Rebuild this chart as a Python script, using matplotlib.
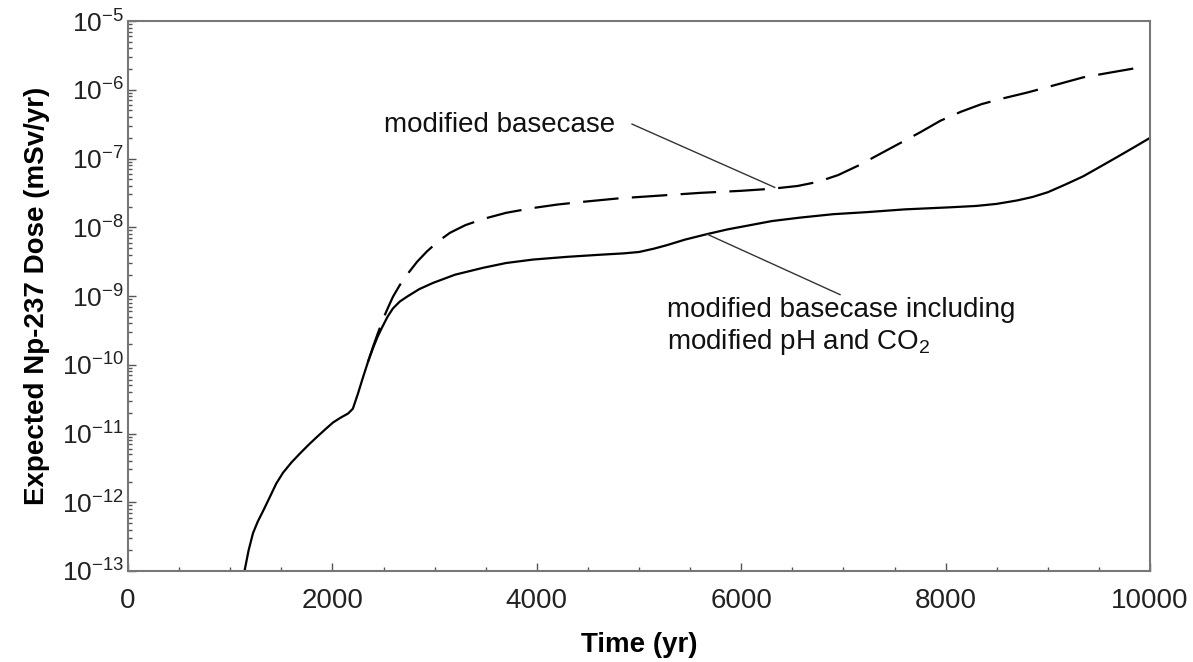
import matplotlib
matplotlib.use("Agg")
import matplotlib.pyplot as plt
import numpy as np
from matplotlib.ticker import LogLocator, MultipleLocator, FixedLocator, NullFormatter

plt.rcParams['font.family'] = ['Liberation Sans', 'DejaVu Sans']
plt.rcParams['mathtext.fontset'] = 'custom'
plt.rcParams['mathtext.rm'] = 'Liberation Sans'
plt.rcParams['mathtext.it'] = 'Liberation Sans'
plt.rcParams['mathtext.bf'] = 'Liberation Sans:bold'

# Solid: modified basecase including modified pH and CO2 (log10 of dose, mSv/yr)
t_solid = [1140, 1180, 1223, 1270, 1321, 1389, 1450, 1517, 1600, 1683, 1770, 1849,
           1930, 2006, 2080, 2153, 2200, 2250, 2300, 2350, 2397, 2440, 2485, 2540,
           2593, 2660, 2730, 2850, 2984, 3200, 3474, 3700, 3963, 4300, 4618, 4850,
           5000, 5150, 5274, 5450, 5665, 5870, 6086, 6300, 6575, 6900, 7231, 7600,
           8043, 8300, 8500, 8700, 8850, 9001, 9170, 9345, 9500, 9677, 9840, 10000]
logd_solid = [-13.0, -12.70, -12.45, -12.28, -12.13, -11.92, -11.73, -11.57, -11.42,
              -11.29, -11.16, -11.05, -10.94, -10.84, -10.77, -10.71, -10.64, -10.42,
              -10.18, -9.95, -9.76, -9.60, -9.46, -9.30, -9.18, -9.08, -9.01, -8.90,
              -8.81, -8.69, -8.59, -8.52, -8.47, -8.43, -8.40, -8.38, -8.36, -8.31,
              -8.26, -8.18, -8.10, -8.03, -7.97, -7.91, -7.86, -7.81, -7.78, -7.74,
              -7.71, -7.69, -7.66, -7.61, -7.56, -7.49, -7.38, -7.26, -7.13, -6.98,
              -6.84, -6.70]

# Dashed: modified basecase
t_dash = [2350, 2397, 2450, 2500, 2550, 2593, 2660, 2730, 2830, 2926, 3040, 3151,
          3300, 3474, 3700, 3963, 4200, 4452, 4800, 5200, 5597, 6000, 6300, 6550,
          6750, 6950, 7150, 7350, 7550, 7750, 7950, 8150, 8350, 8550, 8800, 9001,
          9345, 9650, 9922]
logd_dash = [-9.95, -9.74, -9.52, -9.32, -9.15, -9.01, -8.84, -8.69, -8.50, -8.35,
             -8.20, -8.08, -7.97, -7.88, -7.79, -7.72, -7.67, -7.63, -7.58, -7.54,
             -7.50, -7.47, -7.44, -7.40, -7.34, -7.24, -7.10, -6.94, -6.78, -6.62,
             -6.45, -6.32, -6.21, -6.13, -6.04, -5.96, -5.82, -5.74, -5.67]

x_ticks = [0, 2000, 4000, 6000, 8000, 10000]
y_exponents = [-13, -12, -11, -10, -9, -8, -7, -6, -5]

fig = plt.figure(figsize=(11.93, 6.62), dpi=100)
ax = fig.add_axes([128/1193, 1 - 571/662, (1150-128)/1193, (571-21)/662])

ax.plot(t_solid, 10.0**np.array(logd_solid), color='black', lw=1.6)
ax.plot(t_dash, 10.0**np.array(logd_dash), color='black', lw=1.6, dashes=(16, 6))

ax.set_yscale('log')
ax.set_xlim(0, 10000)
ax.set_ylim(1e-13, 1e-5)

ax.xaxis.set_major_locator(FixedLocator(x_ticks))
ax.xaxis.set_minor_locator(MultipleLocator(500))
ax.set_xticklabels([str(v) for v in x_ticks])
ax.yaxis.set_major_locator(FixedLocator([10.0**e for e in y_exponents]))
ax.set_yticklabels([r'$\mathregular{10^{%d}}$' % e for e in y_exponents])
ax.yaxis.set_minor_locator(LogLocator(base=10, subs=np.arange(2, 10), numticks=100))
ax.yaxis.set_minor_formatter(NullFormatter())

ax.tick_params(which='both', direction='in', top=False, right=False, colors='#555555',
               labelcolor='#222222', width=1)
ax.tick_params(which='major', length=6)
ax.tick_params(which='minor', length=3)
ax.tick_params(axis='x', which='major', labelsize=20, pad=12)
ax.tick_params(axis='y', which='major', labelsize=19, pad=3)
for s in ax.spines.values():
    s.set_color('#777777')
    s.set_linewidth(1.5)

ax.set_xlabel('Time (yr)', fontsize=20, fontweight='bold', labelpad=13)
ax.set_ylabel('Expected Np-237 Dose (mSv/yr)', fontsize=20, fontweight='bold', labelpad=8)

ax.text(2500, 10**-6.51, 'modified basecase', fontsize=20, va='center', ha='left', color='#111111')
ax.plot([4932, 6328], [10**-6.50, 10**-7.42], color='#333333', lw=1)

ax.text(5270, 10**-9.20, 'modified basecase including', fontsize=20, va='center', ha='left', color='#111111')
ax.text(5270, 10**-9.67, r'modified pH and CO$_2$', fontsize=20, va='center', ha='left', color='#111111')
ax.plot([5665, 6967], [10**-8.10, 10**-8.98], color='#333333', lw=1)

fig.savefig('out.png', dpi=100)
